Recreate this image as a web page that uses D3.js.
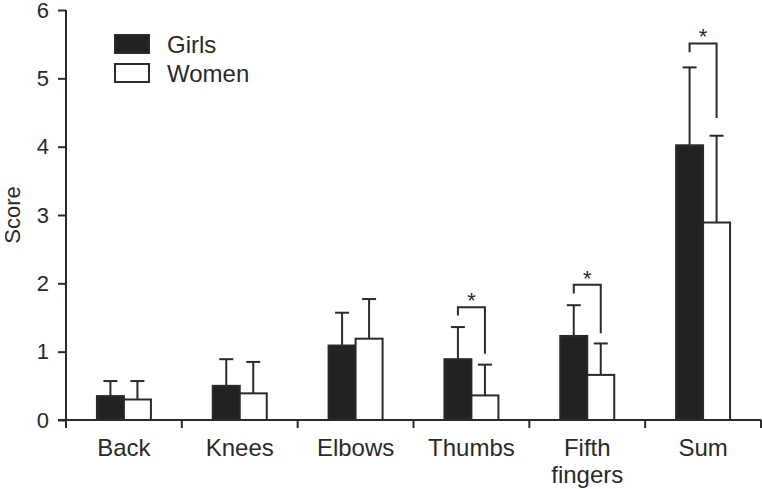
<!DOCTYPE html>
<html>
<head>
<meta charset="utf-8">
<script src="https://cdn.jsdelivr.net/npm/d3@7"></script>
<style>
  html, body { margin: 0; padding: 0; background: #fff; }
  svg { display: block; font-family: "Liberation Sans", Arial, Helvetica, sans-serif; }
</style>
</head>
<body>
<svg id="chart" width="762" height="489"></svg>
<script>
// ---- data ----
const categories = ["Back", "Knees", "Elbows", "Thumbs", "Fifth fingers", "Sum"];
const series = ["Girls", "Women"];
const girlsMean = [0.35, 0.50, 1.09, 0.89, 1.23, 4.02];
const girlsErr  = [0.57, 0.89, 1.57, 1.36, 1.68, 5.16];
const womenMean = [0.30, 0.39, 1.19, 0.36, 0.66, 2.89];
const womenErr  = [0.57, 0.85, 1.77, 0.81, 1.12, 4.16];
const yTicks = [0, 1, 2, 3, 4, 5, 6];
// significance brackets: category, top value, left leg end, right leg end
const sigCats  = ["Thumbs", "Fifth fingers", "Sum"];
const sigTop   = [1.65, 1.98, 5.51];
const sigLeft  = [1.53, 1.85, 5.38];
const sigRight = [0.97, 1.27, 4.42];
const sigLabel = ["*", "*", "*"];

(function () {
// ---- layout ----
const svg = d3.select("#chart");
const mL = 66, mR = 761, mT = 10, mB = 420;
const ink = "#2a2a2a";
const x = d3.scaleBand().domain(categories).range([mL, mR]).padding(0);
const y = d3.scaleLinear().domain([0, 6]).range([mB, mT]);
const barW = 27;
const x1 = d3.scaleBand().domain(series)
  .range([x.bandwidth() / 2 - barW, x.bandwidth() / 2 + barW]).padding(0);

const rows = [];
categories.forEach((c, i) => {
  rows.push({cat: c, s: "Girls", v: girlsMean[i], e: girlsErr[i]});
  rows.push({cat: c, s: "Women", v: womenMean[i], e: womenErr[i]});
});
const cx = d => x(d.cat) + x1(d.s) + x1.bandwidth() / 2;

// error bars
const eg = svg.append("g").attr("stroke", ink).attr("stroke-width", 2);
eg.selectAll("line.stem").data(rows).join("line").attr("class", "stem")
  .attr("x1", cx).attr("x2", cx)
  .attr("y1", d => y(d.v)).attr("y2", d => y(d.e));
eg.selectAll("line.cap").data(rows).join("line").attr("class", "cap")
  .attr("x1", d => cx(d) - 7).attr("x2", d => cx(d) + 7)
  .attr("y1", d => y(d.e)).attr("y2", d => y(d.e));

// bars
svg.append("g").selectAll("rect").data(rows).join("rect")
  .attr("x", d => x(d.cat) + x1(d.s))
  .attr("y", d => y(d.v))
  .attr("width", x1.bandwidth())
  .attr("height", d => y(0) - y(d.v))
  .attr("fill", d => d.s === "Girls" ? "#222" : "#fff")
  .attr("stroke", ink).attr("stroke-width", 2);

// y axis
const yAxis = svg.append("g").attr("transform", `translate(${mL},0)`)
  .call(d3.axisLeft(y).tickValues(yTicks).tickSize(8).tickPadding(9).tickFormat(d3.format("d")));
yAxis.select(".domain").remove();
yAxis.selectAll(".tick line").attr("stroke", ink).attr("stroke-width", 2);
yAxis.selectAll(".tick text").attr("fill", ink).attr("font-size", 22)
  .attr("font-family", "Liberation Sans, Arial, sans-serif");
svg.append("line").attr("x1", mL).attr("x2", mL).attr("y1", mT).attr("y2", mB + 8)
  .attr("stroke", ink).attr("stroke-width", 2);

// x axis
svg.append("line").attr("x1", mL - 8).attr("x2", mR).attr("y1", mB).attr("y2", mB)
  .attr("stroke", ink).attr("stroke-width", 2);
const bounds = categories.slice(1).map(c => x(c)).concat([mR]);
svg.append("g").selectAll("line").data(bounds).join("line")
  .attr("x1", d => d).attr("x2", d => d).attr("y1", mB).attr("y2", mB + 8)
  .attr("stroke", ink).attr("stroke-width", 2);
const lab = svg.append("g").attr("font-size", 24).attr("fill", ink).attr("text-anchor", "middle");
categories.forEach(c => {
  const t = lab.append("text").attr("x", x(c) + x.bandwidth() / 2).attr("y", 456);
  c.split(" ").forEach((w, j) => {
    t.append("tspan").attr("x", x(c) + x.bandwidth() / 2).attr("dy", j === 0 ? 0 : 27).text(w);
  });
});

// y label
svg.append("text").attr("transform", `translate(20,${(mT + mB) / 2}) rotate(-90)`)
  .attr("text-anchor", "middle").attr("font-size", 22).attr("fill", ink).text("Score");

// significance brackets
const bg = svg.append("g").attr("fill", "none").attr("stroke", ink).attr("stroke-width", 2);
sigCats.forEach((c, i) => {
  const xl = x(c) + x1("Girls") + x1.bandwidth() / 2;
  const xr = x(c) + x1("Women") + x1.bandwidth() / 2;
  bg.append("path").attr("d",
    `M${xl},${y(sigLeft[i])}V${y(sigTop[i])}H${xr}V${y(sigRight[i])}`);
  svg.append("text").attr("x", (xl + xr) / 2).attr("y", y(sigTop[i]) + 1)
    .attr("text-anchor", "middle").attr("font-size", 22).attr("fill", ink).text(sigLabel[i]);
});

// legend
const lg = svg.append("g");
series.forEach((s, i) => {
  lg.append("rect").attr("x", 115).attr("y", 35 + i * 29).attr("width", 34).attr("height", 18)
    .attr("fill", s === "Girls" ? "#222" : "#fff").attr("stroke", ink).attr("stroke-width", 2);
  lg.append("text").attr("x", 167).attr("y", 53 + i * 29).attr("font-size", 24).attr("fill", ink).text(s);
});
})();
</script>
</body>
</html>
